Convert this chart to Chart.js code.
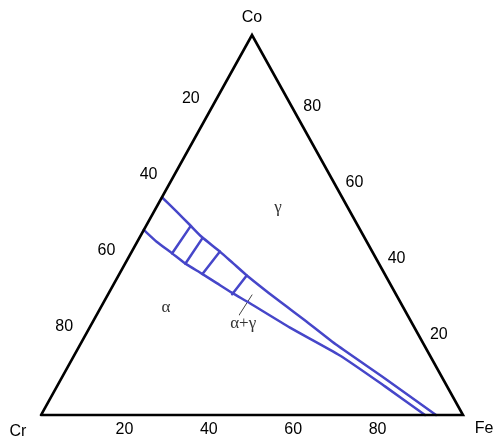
<!DOCTYPE html>
<html>
<head>
<meta charset="utf-8">
<title>Fe–Co–Cr</title>
<script src="https://cdn.jsdelivr.net/npm/chart.js@4/dist/chart.umd.min.js"></script>
<style>
  html, body { margin: 0; padding: 0; background: #fff; }
  #wrap { width: 496px; height: 441px; }
</style>
</head>
<body>
<div id="wrap"><canvas id="c" width="496" height="441"></canvas></div>
<script>
// Compositions in at.% (Fe, Co); Cr is the balance.
const vertexNames = ['Cr', 'Fe', 'Co'];
const tickValues = [20, 40, 60, 80];

// gamma / (alpha+gamma) boundary
const upperFe = [0, 5.4, 10.3, 14.6, 20.9, 25.6, 30.3, 40.6, 50.7, 60.9, 76.7, 93.6];
const upperCo = [57.3, 53.5, 50.0, 46.9, 43.0, 39.9, 36.8, 30.5, 24.55, 18.4, 9.6, 0];

// alpha / (alpha+gamma) boundary
const lowerFe = [0, 4.6, 9.7, 14.2, 19.5, 24.3, 29.1, 34.8, 47.5, 63.0, 77.75, 91.0];
const lowerCo = [48.7, 45.6, 42.6, 39.9, 37.2, 34.7, 32.2, 29.4, 23.0, 15.66, 7.53, 0];

// tie lines: gamma end and alpha end
const tieGammaFe = [10.6, 15.0, 20.9, 30.4];
const tieGammaCo = [49.7, 46.6, 43.0, 36.7];
const tieAlphaFe = [9.8, 14.3, 19.7, 29.4];
const tieAlphaCo = [42.5, 39.8, 37.1, 31.8];

// phase field labels
const phaseNames = ['γ', 'α', 'α+γ'];
const phaseFe = [28.9, 15.5, 35.8];
const phaseCo = [54.5, 28.2, 24.2];

// pointer from the α+γ label into the two-phase field
const pointerFe = [33.8, 34.2];
const pointerCo = [26.3, 31.6];

// ternary (Fe, Co) -> plot coordinates
function toXY(fe, co) { return { x: fe + co / 2, y: co }; }
function series(fe, co) { return fe.map((f, i) => toXY(f, co[i])); }

const BLUE = '#4646c9';
const datasets = [];

datasets.push({
  data: [toXY(0, 0), toXY(100, 0), toXY(0, 100), toXY(0, 0)],
  borderColor: '#000', borderWidth: 2.6, borderJoinStyle: 'miter', tension: 0
});
datasets.push({ data: series(upperFe, upperCo), borderColor: BLUE, borderWidth: 2.5, tension: 0.2 });
datasets.push({ data: series(lowerFe, lowerCo), borderColor: BLUE, borderWidth: 2.5, tension: 0.2 });
tieGammaFe.forEach((f, i) => {
  datasets.push({
    data: [toXY(f, tieGammaCo[i]), toXY(tieAlphaFe[i], tieAlphaCo[i])],
    borderColor: BLUE, borderWidth: 2.5, tension: 0
  });
});
datasets.push({ data: series(pointerFe, pointerCo), borderColor: '#444', borderWidth: 1, tension: 0 });

datasets.forEach(d => { d.showLine = true; d.pointRadius = 0; d.fill = false; d.borderCapStyle = 'round'; });

const textPlugin = {
  id: 'ternaryText',
  afterDatasetsDraw(chart) {
    const ctx = chart.ctx, sx = chart.scales.x, sy = chart.scales.y;
    const px = (fe, co) => {
      const p = toXY(fe, co);
      return [sx.getPixelForValue(p.x), sy.getPixelForValue(p.y)];
    };
    ctx.save();
    ctx.textAlign = 'center';
    ctx.textBaseline = 'middle';
    ctx.fillStyle = '#000';
    ctx.font = '16px "Liberation Sans", Arial, sans-serif';

    // vertex labels
    const corners = [[0, 0, -23, 17], [100, 0, 21, 14], [0, 100, 0, -17]];
    vertexNames.forEach((n, i) => {
      const [x, y] = px(corners[i][0], corners[i][1]);
      ctx.fillText(n, x + corners[i][2], y + corners[i][3]);
    });

    // edge tick labels
    tickValues.forEach(v => {
      let [x, y] = px(v, 0);              // Cr–Fe edge: Fe %
      ctx.fillText(String(v), x - 1, y + 15);
      [x, y] = px(0, 100 - v);            // Cr–Co edge: Cr %
      ctx.fillText(String(v), x - 19, y - 12);
      [x, y] = px(100 - v, v);            // Fe–Co edge: Co %
      ctx.fillText(String(v), x + 18, y - 4);
    });

    // phase field labels
    ctx.fillStyle = '#333';
    ctx.font = '17px "Liberation Serif", "Times New Roman", serif';
    phaseNames.forEach((n, i) => {
      const [x, y] = px(phaseFe[i], phaseCo[i]);
      ctx.fillText(n, x, y);
    });
    ctx.restore();
  }
};

new Chart(document.getElementById('c'), {
  type: 'scatter',
  data: { datasets },
  options: {
    responsive: false,
    animation: false,
    devicePixelRatio: 1,
    layout: { padding: 0 },
    plugins: { legend: { display: false }, tooltip: { enabled: false } },
    scales: {
      x: { type: 'linear', display: false, min: -9.716, max: 107.82 },
      y: { type: 'linear', display: false, min: -6.84, max: 109.21 }
    }
  },
  plugins: [textPlugin]
});
</script>
</body>
</html>
